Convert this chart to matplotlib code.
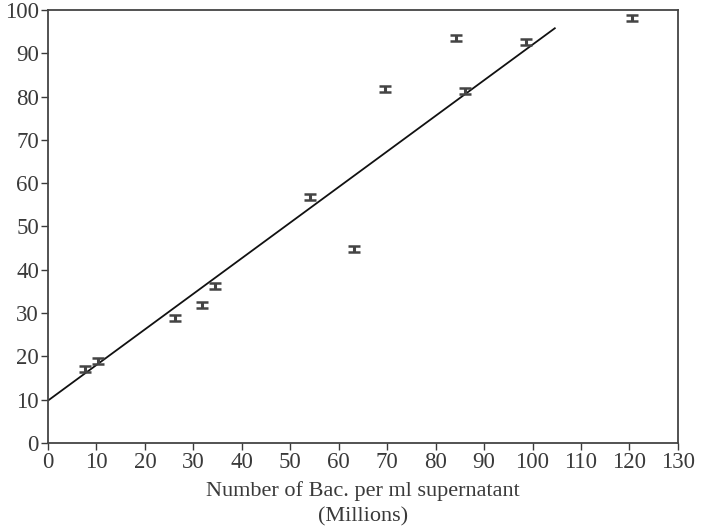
import matplotlib
matplotlib.use("Agg")
import matplotlib.pyplot as plt
import numpy as np

# Measured bacteria counts (millions per ml) and response values
bac_millions = [7.6, 10.3, 26.2, 31.8, 34.5, 54.1, 63.1, 69.5, 84.2, 86.0, 98.6, 120.5]
response = [17.1, 18.9, 28.9, 31.9, 36.3, 56.8, 44.8, 81.8, 93.5, 81.3, 92.6, 98.2]
response_err = [0.75] * len(response)

# Fitted regression line
fit_intercept = 9.8
fit_slope = 0.822
fit_x_range = [0, 104.6]

x_ticks = list(range(0, 131, 10))
y_ticks = list(range(0, 101, 10))

plt.rcParams["font.family"] = ["Liberation Serif", "DejaVu Serif"]

fig = plt.figure(figsize=(7.01, 5.32), dpi=100)
ax = fig.add_axes([0.0685, 0.1673, 0.8985, 0.8139])

ink = "#3a3a3a"

fx = np.array(fit_x_range)
ax.plot(fx, fit_intercept + fit_slope * fx, color="#111111", lw=1.3)

ax.errorbar(bac_millions, response, yerr=response_err, fmt="none",
            ecolor="#444444", elinewidth=2.2, capsize=4, capthick=1.8)

ax.set_xlim(0, 130)
ax.set_ylim(0, 100)
ax.set_xticks(x_ticks)
ax.set_yticks(y_ticks)
ax.tick_params(direction="out", length=5, width=1, colors=ink, pad=1.5,
               labelsize=16.5)
for s in ax.spines.values():
    s.set_color("#444444")
    s.set_linewidth(1.3)

ax.set_xlabel("Number of Bac. per ml supernatant\n(Millions)",
              fontsize=16, color=ink, labelpad=6, linespacing=1.45)

fig.savefig("out.png", dpi=100)
